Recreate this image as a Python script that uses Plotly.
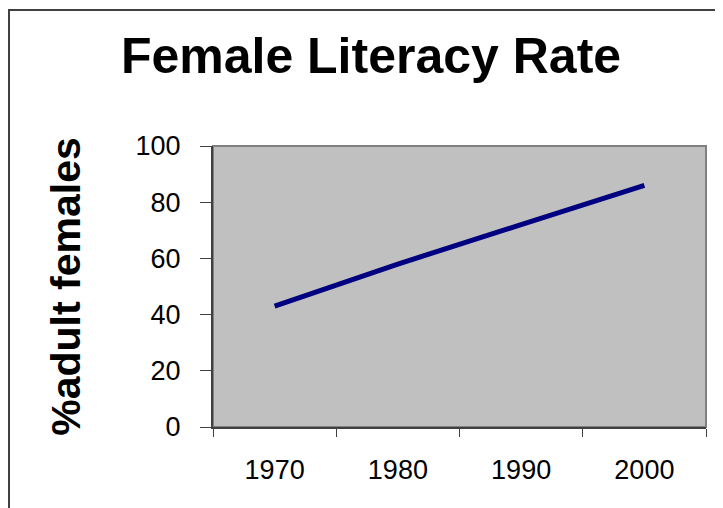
import plotly.graph_objects as go

# data
years = ['1970', '1980', '1990', '2000']
literacy = [43, 58, 72, 86]
y_ticks = [0, 20, 40, 60, 80, 100]

FONT = 'Liberation Sans, Arial, sans-serif'

# page body has an 8px margin, so the figure is sized to fit the window
W, H = 715, 500

fig = go.Figure()

fig.add_trace(go.Scatter(x=years, y=literacy, mode='lines',
                         line=dict(color='#000080', width=5),
                         showlegend=False, hoverinfo='x+y'))

# x axis: category axis, ticks on boundaries like Excel
fig.update_xaxes(type='category', tickson='boundaries', range=[-0.5, 3.5],
                 ticks='outside', ticklen=8, tickwidth=1, tickcolor='#404040',
                 showline=True, linecolor='#404040', linewidth=2,
                 showgrid=False, zeroline=False,
                 ticklabelstandoff=18,
                 tickfont=dict(family=FONT, size=27, color='black'))

# y axis
fig.update_yaxes(range=[0, 100], tickvals=y_ticks,
                 ticks='outside', ticklen=11, tickwidth=1, tickcolor='#404040',
                 showline=True, linecolor='#404040', linewidth=2,
                 showgrid=False, zeroline=False,
                 ticklabelstandoff=14,
                 tickfont=dict(family=FONT, size=27, color='black'),
                 title=dict(text='<b>%adult females</b>', standoff=42,
                            font=dict(family=FONT, size=41, color='black')))

# plot area border (lighter gray on top/right)
fig.add_shape(type='rect', xref='paper', yref='paper', x0=0, x1=1, y0=0, y1=1,
              line=dict(color='#808080', width=2), layer='below')

# outer chart frame (right and bottom edges run off the picture)
fig.add_shape(type='rect', xref='paper', yref='paper',
              x0=-0.4138, x1=1.2, y0=-0.5, y1=1.484,
              line=dict(color='#404040', width=2))

fig.update_layout(
    width=W, height=H,
    margin=dict(l=205, r=17, t=138, b=81, autoexpand=False),
    paper_bgcolor='white',
    plot_bgcolor='#C0C0C0',
    title=dict(text='<b>Female Literacy Rate</b>',
               x=363 / W, xanchor='center', y=1 - 47 / H, yanchor='middle',
               yref='container',
               font=dict(family=FONT, size=50, color='black')),
)

fig.write_html("out.html")
